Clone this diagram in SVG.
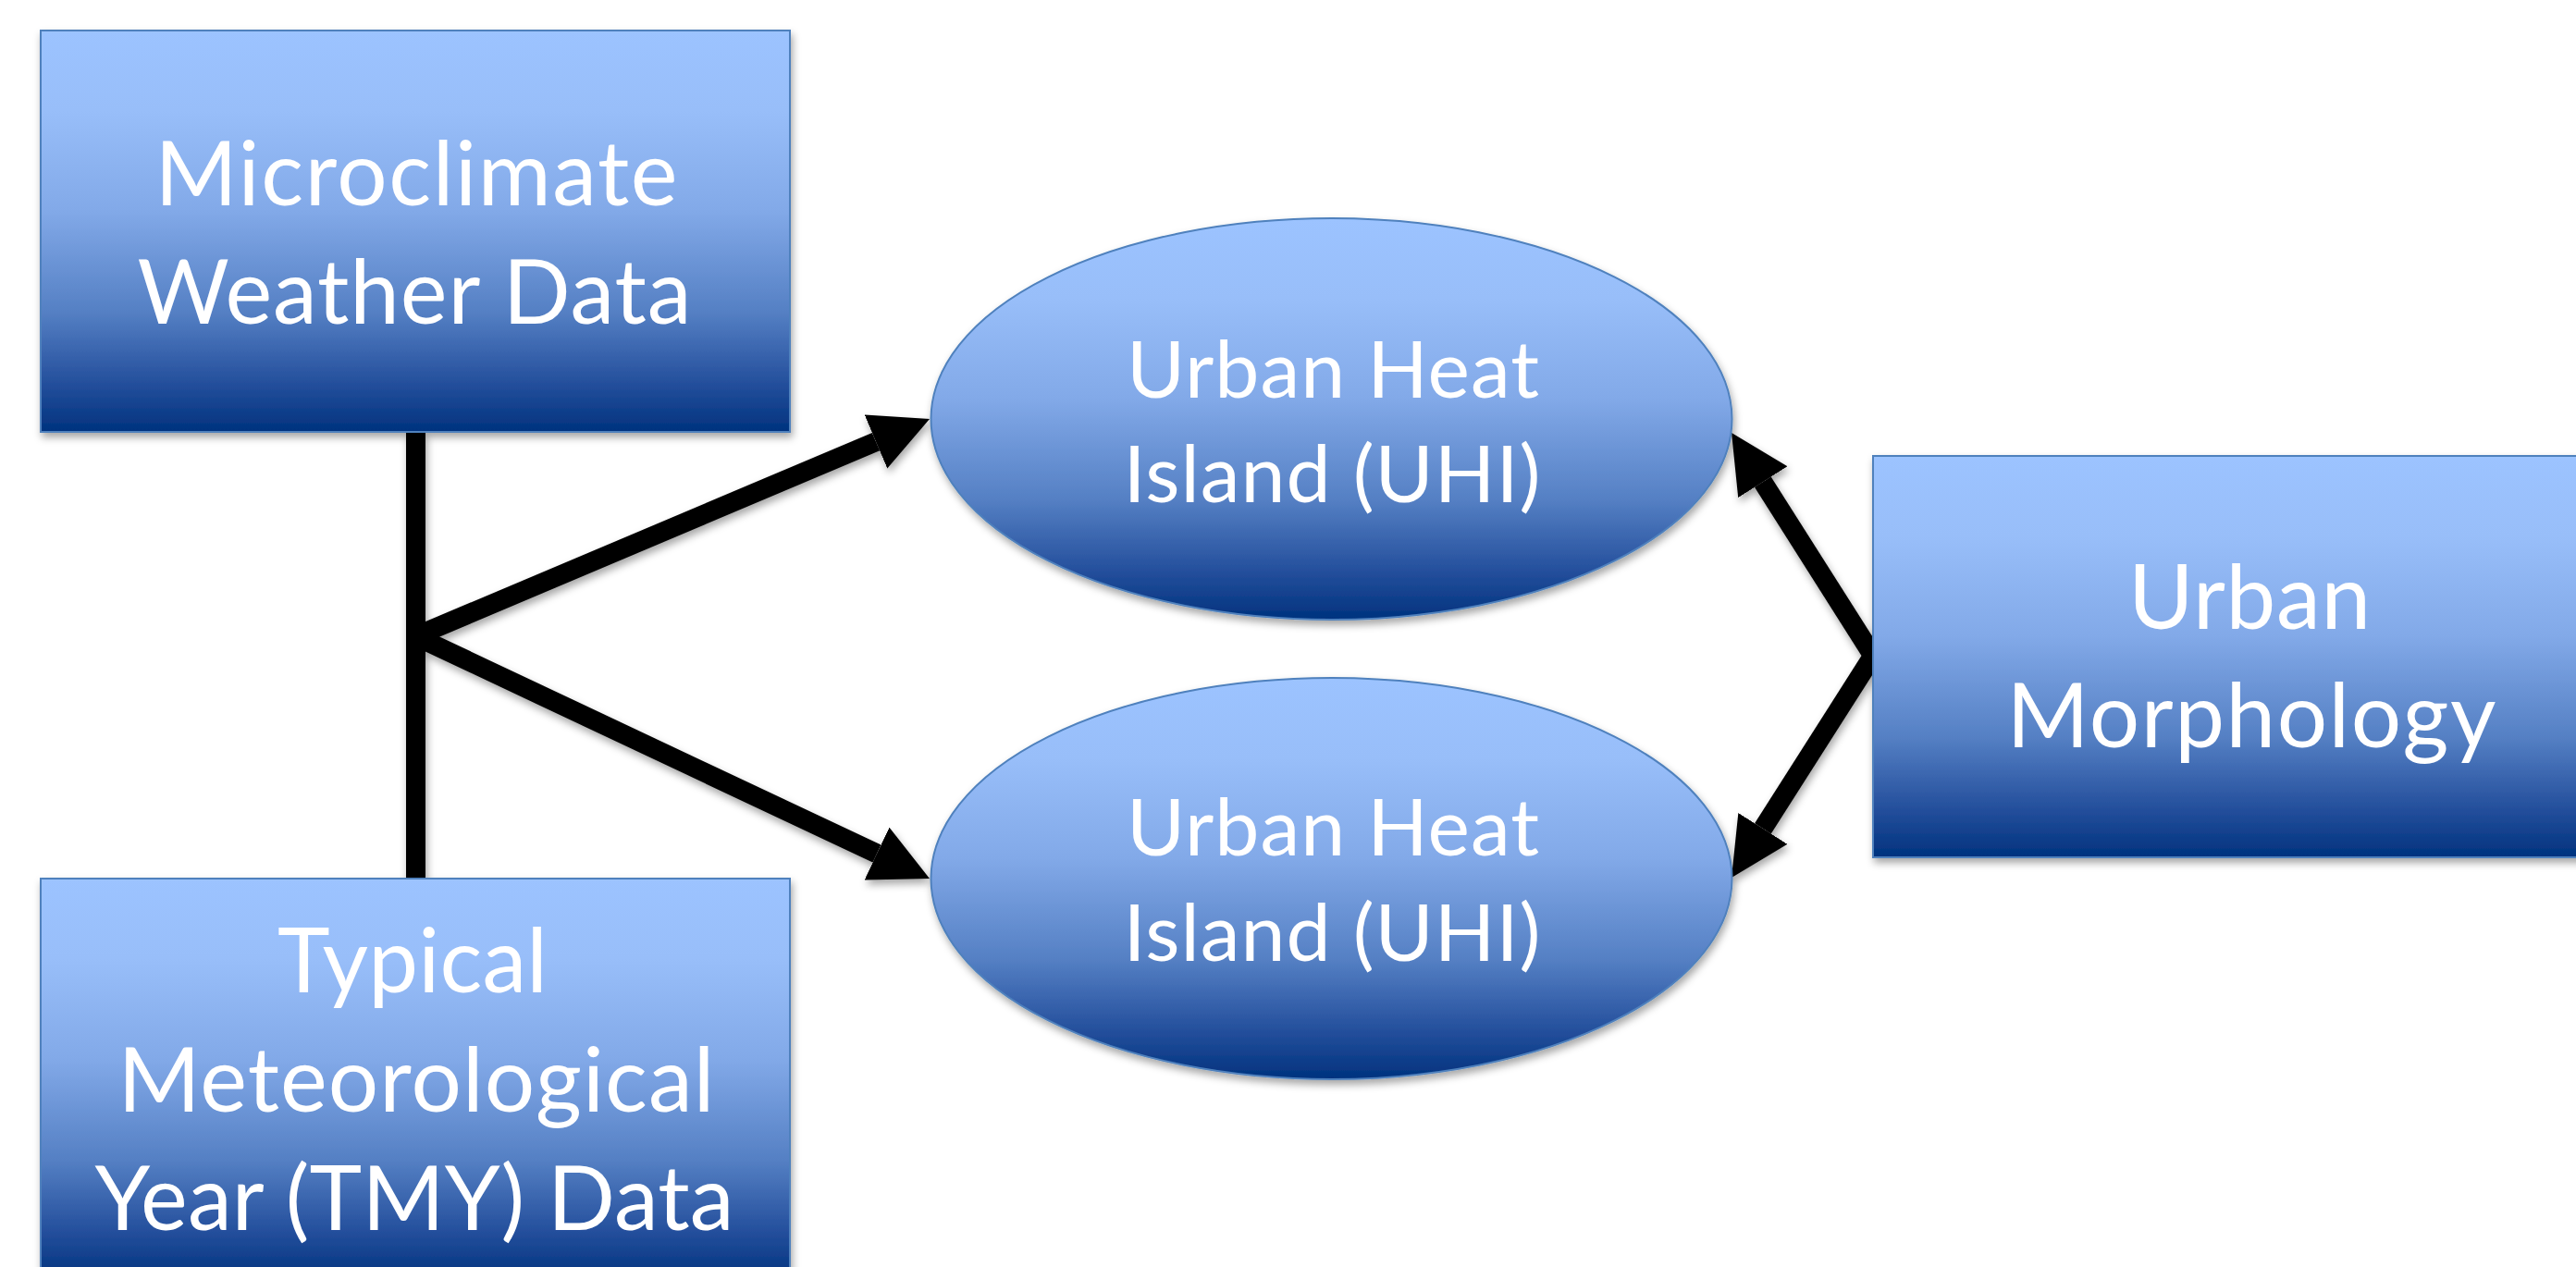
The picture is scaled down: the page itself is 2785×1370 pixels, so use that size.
<svg xmlns="http://www.w3.org/2000/svg" width="2785" height="1370" viewBox="0 0 2785 1370">
  <defs>
    <linearGradient id="blueGrad" x1="0" y1="0" x2="0" y2="1">
      <stop offset="0" stop-color="#9CC3FF"/>
      <stop offset="0.2" stop-color="#98BEF9"/>
      <stop offset="0.45" stop-color="#82A9E8"/>
      <stop offset="0.7" stop-color="#5580C4"/>
      <stop offset="0.88" stop-color="#244F9C"/>
      <stop offset="1" stop-color="#00327E"/>
    </linearGradient>
    <filter id="shadow" x="-10%" y="-10%" width="120%" height="130%">
      <feDropShadow dx="2" dy="5" stdDeviation="4" flood-color="#000" flood-opacity="0.35"/>
    </filter>
    <marker id="arrow" viewBox="0 -1.5 3 3" refX="0" refY="0" markerWidth="3" markerHeight="3" markerUnits="strokeWidth" orient="auto">
      <path d="M0,-1.5 L3,0 L0,1.5 Z" fill="#000"/>
    </marker>
  </defs>
  <style>
    .shape { fill: url(#blueGrad); stroke: #4F81BD; stroke-width: 2; filter: url(#shadow); }
    .label { font-family: Lato, "Open Sans", sans-serif; fill: #FFFFFF; text-anchor: middle; }
    .big { font-size: 96px; }
    .mid { font-size: 86px; }
    .conn { stroke: #000; stroke-width: 21; fill: none; stroke-linecap: butt; }
  </style>

  <g id="connectors" filter="url(#shadow)">
    <line class="conn" x1="449.5" y1="467" x2="449.5" y2="950"/>
    <line class="conn" x1="449.5" y1="688" x2="947" y2="477.6" marker-end="url(#arrow)"/>
    <line class="conn" x1="449.5" y1="688" x2="948" y2="923.1" marker-end="url(#arrow)"/>
    <line class="conn" x1="2025" y1="709" x2="1905.8" y2="521.2" marker-end="url(#arrow)"/>
    <line class="conn" x1="2025" y1="709" x2="1905.9" y2="895.9" marker-end="url(#arrow)"/>
  </g>

  <g id="microclimate">
    <rect class="shape" x="44" y="33" width="810" height="434"/>
    <text class="label big" x="450" y="222" textLength="565" lengthAdjust="spacing">Microclimate</text>
    <text class="label big" x="448" y="350" textLength="599" lengthAdjust="spacing">Weather Data</text>
  </g>

  <g id="tmy">
    <rect class="shape" x="44" y="950" width="810" height="434"/>
    <text class="label big" x="446" y="1073" textLength="292" lengthAdjust="spacing">Typical</text>
    <text class="label big" x="450" y="1202" textLength="645" lengthAdjust="spacing">Meteorological</text>
    <text class="label big" x="448" y="1330" textLength="691" lengthAdjust="spacing">Year (TMY) Data</text>
  </g>

  <g id="uhi-top">
    <ellipse class="shape" cx="1439.5" cy="453" rx="433" ry="217"/>
    <text class="label mid" x="1441" y="430" textLength="446" lengthAdjust="spacing">Urban Heat</text>
    <text class="label mid" x="1440" y="543" textLength="451" lengthAdjust="spacing">Island (UHI)</text>
  </g>

  <g id="uhi-bottom">
    <ellipse class="shape" cx="1439.5" cy="950" rx="433" ry="217"/>
    <text class="label mid" x="1441" y="925" textLength="446" lengthAdjust="spacing">Urban Heat</text>
    <text class="label mid" x="1440" y="1039" textLength="451" lengthAdjust="spacing">Island (UHI)</text>
  </g>

  <g id="morphology">
    <rect class="shape" x="2025" y="493" width="816" height="434"/>
    <text class="label big" x="2432" y="680" textLength="262" lengthAdjust="spacing">Urban</text>
    <text class="label big" x="2434" y="808" textLength="529" lengthAdjust="spacing">Morphology</text>
  </g>
</svg>
